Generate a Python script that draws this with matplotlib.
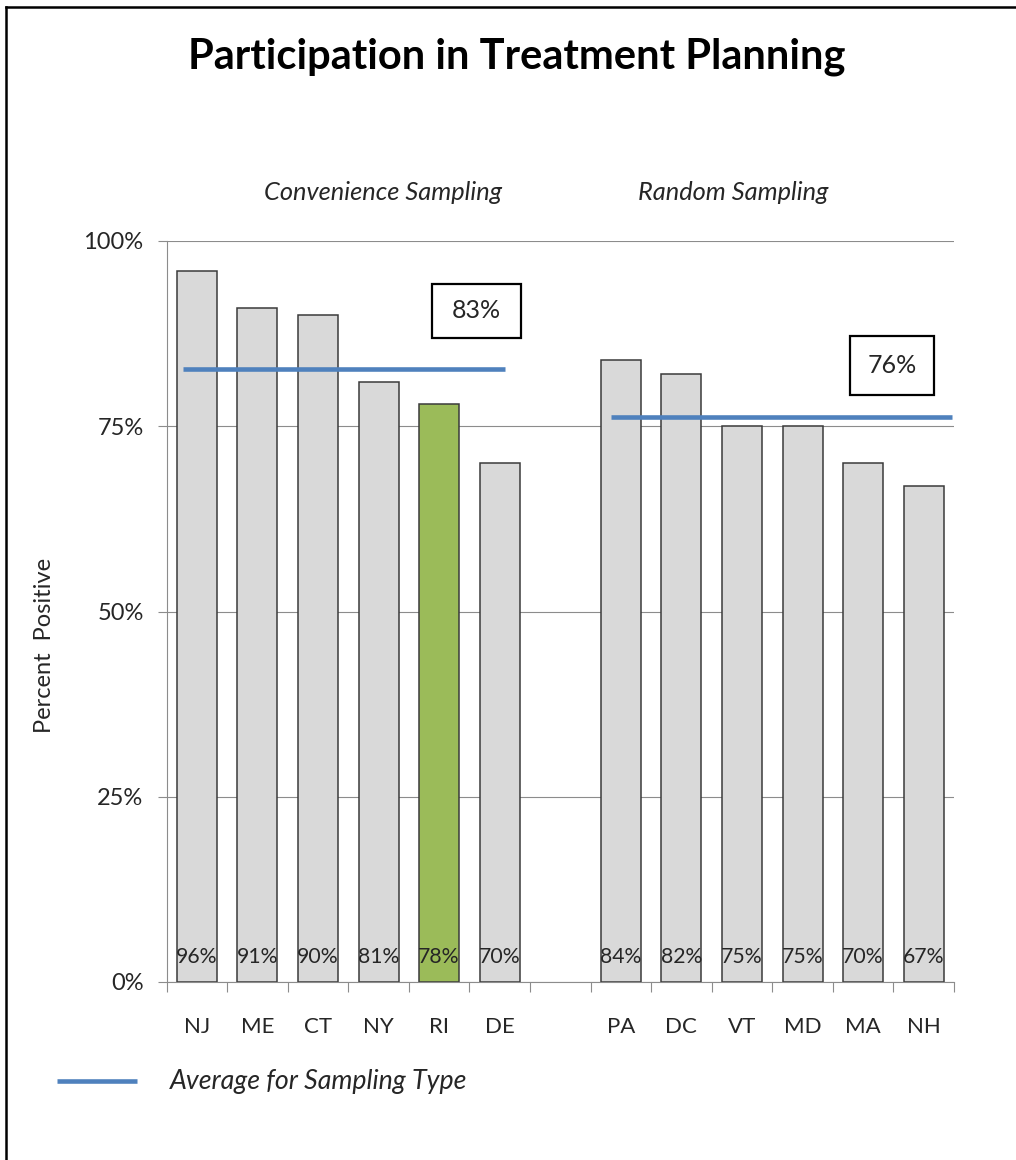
"""
Participation in Treatment Planning: bar chart with sampling-type averages
"""
import matplotlib
matplotlib.use('Agg')
import matplotlib.pyplot as plt
from matplotlib.lines import Line2D
from matplotlib.patches import Rectangle

plt.rcParams['font.family'] = ['Lato', 'DejaVu Sans']

# data
conv_states = ['NJ', 'ME', 'CT', 'NY', 'RI', 'DE']
conv_values = [96, 91, 90, 81, 78, 70]
rand_states = ['PA', 'DC', 'VT', 'MD', 'MA', 'NH']
rand_values = [84, 82, 75, 75, 70, 67]
highlight = 'RI'
avg_values = [82.7, 76.2]
avg_labels = ['83%', '76%']
group_names = ['Convenience Sampling', 'Random Sampling']
y_ticks = [0, 25, 50, 75, 100]

GRAY = '#d9d9d9'
GREEN = '#9bbb59'
BLUE = '#4f81bd'
AXIS = '#8c8c8c'
TEXT = '#262626'

# one empty slot between the two groups
labels = conv_states + [''] + rand_states
values = conv_values + [None] + rand_values
positions = [i for i, v in enumerate(values) if v is not None]

fig = plt.figure(figsize=(10.16, 11.6), dpi=100)
ax = fig.add_axes([166.5 / 1016, 1 - 982 / 1160, 787.5 / 1016, 741 / 1160])

for i in positions:
    color = GREEN if labels[i] == highlight else GRAY
    ax.bar(i, values[i], width=0.66, color=color, edgecolor='#3a3a3a',
           linewidth=1.1, zorder=2)
    ax.text(i, 3.4, f'{values[i]}%', ha='center', va='center', fontsize=15.3,
            color=TEXT, zorder=4)

# average lines per sampling type
n = len(conv_states)
ax.plot([-0.23, n - 0.92], [avg_values[0]] * 2, color=BLUE, lw=3.3,
        solid_capstyle='butt', zorder=3)
ax.plot([n + 0.84, len(labels) - 0.54], [avg_values[1]] * 2, color=BLUE, lw=3.3,
        solid_capstyle='butt', zorder=3)

# labelled boxes with the averages
boxes = [(4.62, 90.6, 1.48, 7.3), (11.48, 83.2, 1.39, 8.0)]
for (cx, cy, w, h), lab in zip(boxes, avg_labels):
    ax.add_patch(Rectangle((cx - w / 2, cy - h / 2), w, h, facecolor='white',
                           edgecolor='black', linewidth=1.6, zorder=5))
    ax.text(cx, cy, lab, ha='center', va='center', fontsize=18, color=TEXT, zorder=6)

ax.set_xlim(-0.5, len(labels) - 0.5)
ax.set_ylim(0, 100)

ax.set_yticks(y_ticks)
ax.set_yticklabels([f'{t}%' for t in y_ticks], fontsize=17, color=TEXT)
ax.tick_params(axis='y', length=6.5, width=0.8, color=AXIS, pad=10)
ax.grid(axis='y', color=AXIS, linewidth=0.8, zorder=0)

ax.set_xticks([i - 0.5 for i in range(len(labels) + 1)])
ax.set_xticklabels([])
ax.tick_params(axis='x', which='major', length=7, width=0.8, color=AXIS)
ax.set_xticks(range(len(labels)), minor=True)
ax.set_xticklabels(labels, minor=True, fontsize=16, color=TEXT)
ax.tick_params(axis='x', which='minor', length=0, pad=25)

for side in ['top', 'right']:
    ax.spines[side].set_visible(False)
for side in ['left', 'bottom']:
    ax.spines[side].set_color(AXIS)
    ax.spines[side].set_linewidth(0.8)
ax.set_axisbelow(True)

# titles
fig.text(517 / 1016, 1 - 57 / 1160, 'Participation in Treatment Planning',
         ha='center', va='center', fontsize=30, fontweight='bold', color='black')
fig.text(383 / 1016, 1 - 192 / 1160, group_names[0], ha='center', va='center',
         fontsize=18.3, style='italic', color=TEXT)
fig.text(733 / 1016, 1 - 192 / 1160, group_names[1], ha='center', va='center',
         fontsize=18.3, style='italic', color=TEXT)
fig.text(45 / 1016, 1 - 645 / 1160, 'Percent  Positive', ha='center', va='center',
         rotation=90, fontsize=17, color=TEXT)

# legend
fig.add_artist(Line2D([57 / 1016, 137 / 1016], [1 - 1081 / 1160] * 2,
                      color=BLUE, lw=3.3, solid_capstyle='butt'))
fig.text(170 / 1016, 1 - 1081 / 1160, 'Average for Sampling Type', ha='left',
         va='center', fontsize=19.3, style='italic', color=TEXT)

# outer frame (left and top)
fig.add_artist(Line2D([6 / 1016, 6 / 1016], [0, 1 - 7 / 1160], color='black', lw=1.8))
fig.add_artist(Line2D([6 / 1016, 1], [1 - 7 / 1160] * 2, color='black', lw=1.8))

fig.savefig('out.png', dpi=100)
